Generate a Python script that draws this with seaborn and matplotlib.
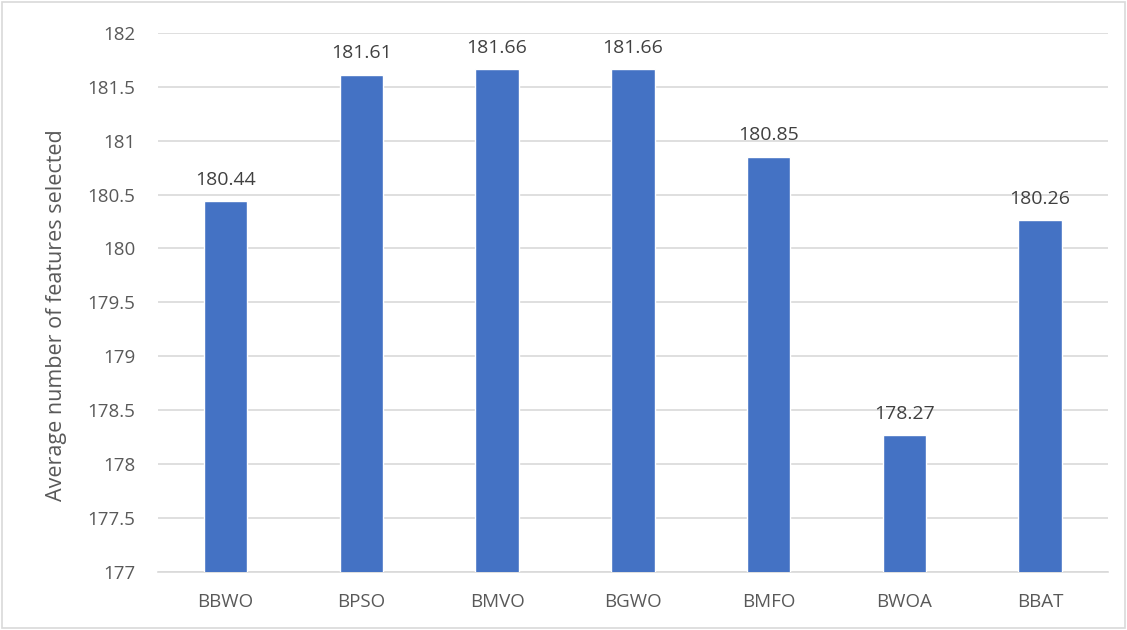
import matplotlib
matplotlib.use("Agg")
import matplotlib.pyplot as plt
import seaborn as sns
import pandas as pd

algorithms = ["BBWO", "BPSO", "BMVO", "BGWO", "BMFO", "BWOA", "BBAT"]
avg_features = [180.44, 181.61, 181.66, 181.66, 180.85, 178.27, 180.26]
yticks = [177, 177.5, 178, 178.5, 179, 179.5, 180, 180.5, 181, 181.5, 182]

sns.set_style("white")
plt.rcParams["font.family"] = ["Open Sans", "DejaVu Sans"]

df = pd.DataFrame({"algo": algorithms, "val": avg_features})

fig = plt.figure(figsize=(11.27, 6.3), dpi=100)
ax = fig.add_axes([0.140, 0.092, 0.843, 0.856])

sns.barplot(data=df, x="algo", y="val", color="#4472C4", width=0.32,
            saturation=1, ax=ax, zorder=3)
ax.set_ylim(177, 182)
ax.set_xlim(-0.5, len(algorithms) - 0.5)
ax.set_yticks(yticks)
ax.set_yticklabels([f"{t:g}" for t in yticks])
ax.yaxis.grid(True, color="#D9D9D9", linewidth=1.2, zorder=0)
ax.set_axisbelow(True)

# value labels above each bar
for i, v in enumerate(avg_features):
    ax.annotate(f"{v:.2f}", (i, v), xytext=(0, 9), textcoords="offset points",
                ha="center", va="bottom", fontsize=14, color="#404040")

for s in ["top", "right", "left"]:
    ax.spines[s].set_visible(False)
ax.spines["bottom"].set_color("#D9D9D9")
ax.spines["bottom"].set_linewidth(1.2)
ax.tick_params(axis="y", length=0, labelsize=13.5, colors="#595959", pad=16)
ax.tick_params(axis="x", length=0, labelsize=13.5, colors="#595959", pad=15)
ax.set_xlabel("")
ax.set_ylabel("Average number of features selected", fontsize=15.5,
              color="#595959")
ax.yaxis.set_label_coords(-0.096, 0.476)

fig.patches.append(plt.Rectangle((0.002, 0.003), 0.996, 0.994,
                                 transform=fig.transFigure, fill=False,
                                 edgecolor="#D9D9D9", linewidth=1.2))

fig.savefig("out.png", dpi=100)
